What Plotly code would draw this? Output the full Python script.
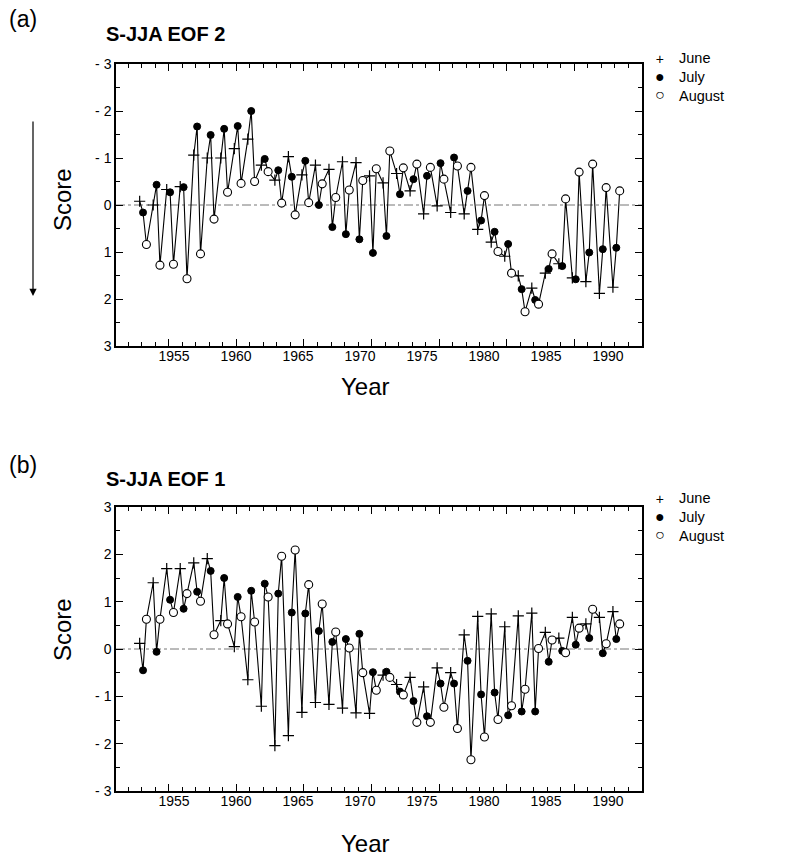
import plotly.graph_objects as go

# ---------------- data ----------------
years = list(range(1953, 1989))

# Panel (a): S-JJA EOF 2 scores
eof2_june = [-0.08, 0.00, -0.33, -0.39, -1.06, -1.00, -1.00, -1.20, -1.40, -0.85,
             -0.53, -1.03, -0.64, -0.85, -0.76, -0.92, -0.90, -0.62, -0.47, -0.67,
             -0.30, 0.19, 0.02, 0.16, 0.19, 0.52, 0.79, 1.09, 1.51, 1.77,
             1.45, 1.25, 1.55, 1.63, 1.88, 1.75]
eof2_july = [0.16, -0.43, -0.27, -0.38, -1.67, -1.49, -1.62, -1.68, -2.00, -0.98,
             -0.74, -0.60, -0.94, 0.00, 0.47, 0.62, 0.73, 1.02, 0.66, -0.23,
             -0.55, -0.62, -0.89, -1.01, -0.30, 0.33, 0.57, 0.83, 1.79, 2.02,
             1.36, 1.30, 1.58, 1.01, 0.94, 0.91]
eof2_aug = [0.84, 1.28, 1.26, 1.57, 1.04, 0.30, -0.27, -0.46, -0.50, -0.71,
            -0.04, 0.21, -0.05, -0.45, -0.16, -0.32, -0.52, -0.77, -1.15, -0.79,
            -0.87, -0.80, -0.55, -0.83, -0.80, -0.20, 0.99, 1.45, 2.27, 2.11,
            1.04, -0.13, -0.70, -0.87, -0.37, -0.30]

# Panel (b): S-JJA EOF 1 scores
eof1_june = [0.12, 1.40, 1.70, 1.70, 1.82, 1.91, 0.60, 0.05, -0.65, -1.21,
             -2.04, -1.83, -1.34, -1.13, -1.17, -1.25, -1.35, -1.36, -0.55, -0.75,
             -0.60, -0.80, -0.40, -0.50, 0.30, 0.69, 0.74, 0.47, 0.70, 0.76,
             0.35, 0.23, 0.67, 0.53, 0.67, 0.79]
eof1_july = [-0.45, -0.06, 1.04, 0.85, 1.21, 1.65, 1.50, 1.10, 1.23, 1.38,
             1.17, 0.77, 0.75, 0.38, 0.15, 0.21, 0.32, -0.49, -0.48, -0.90,
             -1.10, -1.42, -0.73, -0.73, -0.25, -0.96, -0.92, -1.40, -1.32, -1.32,
             -0.27, -0.04, 0.09, 0.23, -0.09, 0.21]
eof1_aug = [0.63, 0.63, 0.77, 1.17, 1.01, 0.30, 0.53, 0.68, 0.57, 1.10,
            1.96, 2.09, 1.36, 0.95, 0.36, 0.02, -0.50, -0.87, -0.60, -0.97,
            -1.55, -1.55, -1.23, -1.68, -2.34, -1.86, -1.49, -1.20, -0.85, 0.01,
            0.19, -0.08, 0.44, 0.84, 0.11, 0.53]

month_names = ["June", "July", "August"]
legend_glyphs = ["+", "<span style='font-size:16px'>\u25cf</span>",
                 "<span style='font-size:16px'>\u25cb</span>"]
x_tick_vals = [1955, 1960, 1965, 1970, 1975, 1980, 1985, 1990]
x_tick_text = ["1955", "1960", "1965", "1970", "1975", "1980", "1985", "1990"]
y_tick_vals = [-3, -2, -1, 0, 1, 2, 3]
y_tick_text = ["- 3", "- 2", "- 1", "0", "1", "2", "3"]

# ---------------- layout constants ----------------
W, H = 786, 856
FONT = "Liberation Sans, Arial, Helvetica, sans-serif"
MONTH_OFFSET = [-0.15, 0.10, 0.35]  # placement of June/July/August within a year


def px_x(p):
    return p / W


def px_y(p):
    return 1 - p / H


fig = go.Figure()

panels = [
    dict(xa="x", ya="y", xl="x3", data=[eof2_june, eof2_july, eof2_aug]),
    dict(xa="x2", ya="y2", xl="x4", data=[eof1_june, eof1_july, eof1_aug]),
]

marker_styles = [
    dict(symbol="cross-thin", size=8, color="black", line=dict(width=1.2, color="black")),
    dict(symbol="circle", size=7, color="black", line=dict(width=1, color="black")),
    dict(symbol="circle", size=8, color="white", line=dict(width=1.1, color="black")),
]

for p in panels:
    june, july, aug = p["data"]
    lx, ly = [], []
    for i, yr in enumerate(years):
        for k, series in enumerate((june, july, aug)):
            lx.append(yr + MONTH_OFFSET[k])
            ly.append(series[i])
    fig.add_trace(go.Scatter(x=lx, y=ly, mode="lines", xaxis=p["xa"], yaxis=p["ya"],
                             line=dict(color="black", width=1.1), showlegend=False,
                             hoverinfo="skip"))
    for k, series in enumerate((june, july, aug)):
        fig.add_trace(go.Scatter(
            x=[yr + MONTH_OFFSET[k] for yr in years], y=series, mode="markers",
            name=month_names[k], xaxis=p["xa"], yaxis=p["ya"],
            marker=marker_styles[k], showlegend=False))
    # carrier trace for the tick-label axis
    fig.add_trace(go.Scatter(x=[], y=[], xaxis=p["xl"], yaxis=p["ya"], showlegend=False,
                             hoverinfo="skip"))

common_x = dict(
    range=[1951.1, 1990.0], tickvals=x_tick_vals, ticks="inside", ticklen=7,
    tickwidth=1, tickcolor="black", showline=True, linecolor="black", linewidth=1.5,
    mirror="ticks", showgrid=False, zeroline=False, showticklabels=False,
    minor=dict(dtick=1, tick0=1950, ticks="inside", ticklen=4, tickcolor="black",
               tickwidth=1, showgrid=False),
)
# tick labels as printed in the original (slightly compressed vs. the tick marks)
label_x = dict(
    range=[1950.32, 1992.74], tickvals=x_tick_vals, ticktext=x_tick_text, ticks="",
    showline=False, showgrid=False, zeroline=False, side="bottom",
    tickfont=dict(family=FONT, size=14, color="black"),
)
common_y = dict(
    tickvals=y_tick_vals, ticktext=y_tick_text, ticks="inside", ticklen=7,
    tickwidth=1, tickcolor="black", showline=True, linecolor="black", linewidth=1.5,
    mirror="ticks", showgrid=False, zeroline=False,
    tickfont=dict(family=FONT, size=14, color="black"),
    minor=dict(dtick=0.5, tick0=0, ticks="inside", ticklen=4, tickcolor="black",
               tickwidth=1, showgrid=False),
)

fig.update_layout(
    width=W, height=H, margin=dict(l=0, r=0, t=0, b=0, autoexpand=False),
    paper_bgcolor="white", plot_bgcolor="white",
    font=dict(family=FONT, color="black"),
    showlegend=False,
    xaxis=dict(domain=[px_x(116), px_x(642)], anchor="y", **common_x),
    yaxis=dict(domain=[px_y(346), px_y(64)], anchor="x", range=[3, -3], **common_y),
    xaxis2=dict(domain=[px_x(116), px_x(642)], anchor="y2", **common_x),
    yaxis2=dict(domain=[px_y(791), px_y(507)], anchor="x2", range=[-3, 3], **common_y),
    xaxis3=dict(overlaying="x", anchor="y", **label_x),
    xaxis4=dict(overlaying="x2", anchor="y2", **label_x),
)

for xa, ya in (("x", "y"), ("x2", "y2")):
    fig.add_shape(type="line", xref=f"{xa} domain", yref=ya, x0=0, x1=1, y0=0, y1=0,
                  line=dict(color="#777777", width=1, dash="dashdot"), layer="below")

ann = []
ann.append(dict(text="(a)", x=px_x(7), y=px_y(19), xanchor="left", yanchor="middle",
                font=dict(size=23)))
ann.append(dict(text="<b>S-JJA EOF 2</b>", x=px_x(104), y=px_y(34), xanchor="left",
                yanchor="middle", font=dict(size=20)))
ann.append(dict(text="(b)", x=px_x(7), y=px_y(465), xanchor="left", yanchor="middle",
                font=dict(size=23)))
ann.append(dict(text="<b>S-JJA EOF 1</b>", x=px_x(104), y=px_y(479), xanchor="left",
                yanchor="middle", font=dict(size=20)))
ann.append(dict(text="Score", x=px_x(62), y=px_y(200), textangle=-90, xanchor="center",
                yanchor="middle", font=dict(size=24)))
ann.append(dict(text="Score", x=px_x(62), y=px_y(630), textangle=-90, xanchor="center",
                yanchor="middle", font=dict(size=24)))
ann.append(dict(text="Year", x=px_x(365), y=px_y(386), xanchor="center", yanchor="middle",
                font=dict(size=24)))
ann.append(dict(text="Year", x=px_x(365), y=px_y(843), xanchor="center", yanchor="middle",
                font=dict(size=24)))

# legends (one per panel): glyph column + label column
for yc in (77, 517):
    ann.append(dict(text="<br>".join(legend_glyphs), x=px_x(660), y=px_y(yc),
                    xanchor="center", yanchor="middle", align="center",
                    font=dict(size=14)))
    ann.append(dict(text="<br>".join(month_names), x=px_x(677), y=px_y(yc),
                    xanchor="left", yanchor="middle", align="left",
                    font=dict(size=14.5)))

for a in ann:
    a.update(xref="paper", yref="paper", showarrow=False)
    a["font"].setdefault("family", FONT)
    a["font"].update(color="black")
    fig.add_annotation(**a)

fig.add_annotation(x=px_x(33), y=px_y(296), xref="paper", yref="paper", text="",
                   showarrow=True, ax=0, ay=-176, axref="pixel", ayref="pixel",
                   arrowhead=2, arrowsize=1.2, arrowwidth=1.2, arrowcolor="black")

fig.write_html("out.html")
